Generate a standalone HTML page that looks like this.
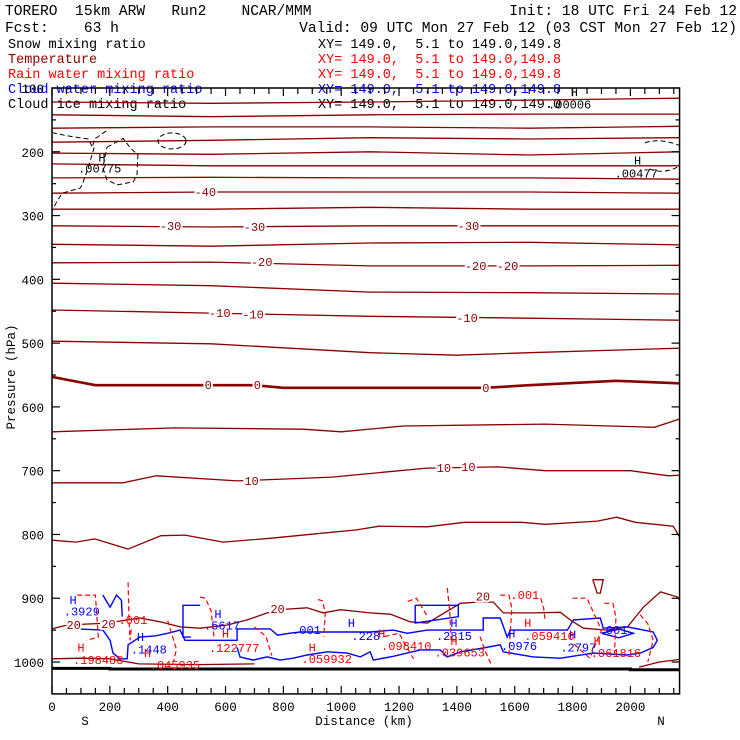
<!DOCTYPE html>
<html><head><meta charset="utf-8"><style>
html,body{margin:0;padding:0;background:#fff;}
svg{display:block;}
text{font-family:"Liberation Mono",monospace;}
</style></head><body>
<svg id="chart" width="740" height="740" viewBox="0 0 740 740" xmlns="http://www.w3.org/2000/svg">
<g font-size="14.6" fill="#000" style="white-space:pre">
<text x="5" y="15" xml:space="preserve">TORERO  15km ARW   Run2    NCAR/MMM</text>
<text x="737" y="15" text-anchor="end" xml:space="preserve">Init: 18 UTC Fri 24 Feb 12</text>
<text x="5" y="32" xml:space="preserve">Fcst:    63 h</text>
<text x="737" y="32" text-anchor="end" xml:space="preserve">Valid: 09 UTC Mon 27 Feb 12 (03 CST Mon 27 Feb 12)</text>
</g>
<g font-size="13.5" style="white-space:pre">
<text x="8" y="48" fill="#000">Snow mixing ratio</text>
<text x="318" y="48" fill="#000" xml:space="preserve">XY= 149.0,  5.1 to 149.0,149.8</text>
<text x="8" y="63" fill="#8b0000">Temperature</text>
<text x="318" y="63" fill="#ff0000" xml:space="preserve">XY= 149.0,  5.1 to 149.0,149.8</text>
<text x="8" y="78" fill="#ff0000">Rain water mixing ratio</text>
<text x="318" y="78" fill="#ff0000" xml:space="preserve">XY= 149.0,  5.1 to 149.0,149.8</text>
<text x="8" y="93" fill="#0000ff">Cloud water mixing ratio</text>
<text x="318" y="93" fill="#0000ff" xml:space="preserve">XY= 149.0,  5.1 to 149.0,149.8</text>
<text x="8" y="108" fill="#000">Cloud ice mixing ratio</text>
<text x="318" y="108" fill="#000" xml:space="preserve">XY= 149.0,  5.1 to 149.0,149.0</text>
</g>
<g id="plot"></g>
<g id="axes"></g>
<text x="0" y="0" font-size="12.5" text-anchor="middle" transform="translate(15,377) rotate(-90)">Pressure (hPa)</text>
<text x="364" y="725" font-size="12.5" text-anchor="middle">Distance (km)</text>
<text x="85" y="725" font-size="12.5" text-anchor="middle">S</text>
<text x="661" y="725" font-size="12.5" text-anchor="middle">N</text>
</svg>
<script>
// ---- axis domain ----
const xTicks = [0,200,400,600,800,1000,1200,1400,1600,1800,2000];
const yTicks = [100,200,300,400,500,600,700,800,900,1000];
// ---- temperature isotherms (upper, smooth) ----
const upperKm = [0,550,1100,1650,2170];
const upperP = [
 [122,124,122,119,116],[142,145,142,141,141],[163,161,161,163,160],
 [185,182,178,180,178],[202,204,200,205,200],[219,222,222,222,222],
 [241,240,241,241,243],[265,263,263,263,265],[290,290,287,290,290],
 [316,318,316,316,316],[345,348,343,342,346],[374,373,379,379,378],
 [406,410,420,421,423],[448,453,458,461,464]
];
const tm5Km = [0,550,1100,1400,1650,2170];
const tm5P = [497,501,515,519,515,508];
const t0Km = [0,150,700,800,1500,1650,1950,2170];
const t0P = [553,566,566,570,570,566,559,563];
const t5Km = [0,425,870,1000,1215,1705,2083,2170];
const t5P = [639,633,635,639,630,627,632,619];
const t10Km = [0,246,360,640,968,1297,1543,1705,2000,2132,2170];
const t10P = [719,719,708,716,710,696,694,700,700,708,707];
const t15Km = [0,83,148,263,377,460,592,754,934,1050,1131,1297,1427,1623,1706,1886,1952,2017,2148,2170];
const t15P = [809,812,807,823,802,801,812,806,798,793,787,788,781,781,784,779,773,781,787,804];
const t20Km = [0,52,190,304,374,443,512,606,675,744,813,882,938,997,1100,1170,1239,1298,1412,1471,1526,1561,1664,1758,1792,1837,1920,1990,2045,2104,2163,2170];
const t20P = [948,942,939,931,937,945,947,942,934,923,917,915,923,918,923,925,937,939,908,906,906,923,923,922,934,947,950,945,914,890,898,903];
const t25Km = [0,100,200,300,500,700];
const t25P = [995,994,995,1003,1004,1003];
const t25bKm = [2030,2100,2170];
const t25bP = [1008,1000,996];
const triKm = [1870,1906,1896,1885,1870];
const triP = [871,871,892,892,871];
// ---- surface ----
const sfcKm = [0,200,200,2000,2000,2170];
const sfcP = [1010,1010,1011,1011,1012,1012];
// ---- cloud water (blue) ----
const cwTopKm = [87,176,201,211,235,260,263,304,356,400,443,460,640,640,754,780,820,858,1100,1180,1228,1298,1491,1491,1550,1574,1585,1664,1782,1803,1896,1906,1990,2079,2093,2079,2034];
const cwTopP = [948,950,966,986,995,995,973,961,959,955,950,966,966,948,948,958,955,953,953,950,955,950,950,931,931,961,950,950,950,934,931,947,945,953,966,977,986];
const cwBotKm = [640,650,695,744,789,834,882,952,1021,1066,1100,1111,1180,1273,1342,1367,1412,1491,1550,1560,1664,1758,1872,1990,2034];
const cwBotP = [977,992,997,992,997,994,989,984,986,992,984,997,991,981,981,992,984,978,973,984,992,994,986,989,986];
const cwBoxKm = [1256,1405,1405,1256,1256];
const cwBoxP = [911,911,929,939,911];
const cwLoopKm = [512,453,453,480];
const cwLoopP = [911,911,961,961];
const cwUlKm = [176,201,223,240,243];
const cwUlP = [895,914,895,903,929];
const cwRightKm = [1900,1960,2010,1960,1900];
const cwRightP = [955,948,955,962,955];
// ---- rain (red dashed) ----
const rainKm = [
 [263,266,270,275],[87,150,160,120],[512,530,550,560],[920,935,945,940],
 [1367,1375,1380],[1550,1580,1590,1580],[1690,1700,1705],[1800,1850,1900,1860,1800],
 [1910,1940,1950,1945],[2034,2060,2079,2060],[700,740,760],[1150,1200,1250],[400,430,420],
 [1230,1260,1300],[1480,1500,1520]
];
const rainP = [
 [875,930,966,945],[895,895,961,966],[898,900,920,961],[902,904,923,960],
 [884,920,966],[895,895,915,990],[900,915,935],[900,900,950,994,970],
 [908,908,930,990],[926,940,966,1000],[945,960,990],[960,955,995],[935,980,1000],
 [905,900,930],[960,985,1005]
];
// ---- cloud ice (black dashed) ----
const iceKm = [0,52,125,140,146,160,194];
const iceP = [170,175,180,193,180,176,165];
const iceOuterKm = [146,125,104,97,35,17,0];
const iceOuterP = [193,225,252,257,265,278,292];
const iceLoopKm = [190,246,271,297,294,281,225,190,176,190];
const iceLoopP = [193,179,194,205,236,247,252,244,225,193];
// ---- temperature labels ----
const tLabelText = ["-40","-30","-30","-30","-20","-20","-20","-10","-10","-10","0","0","0","10","10","10","20","20","20","20"];
const tLabelKm = [530,410,700,1440,725,1465,1575,580,695,1435,540,710,1500,690,1355,1440,75,195,780,1490];
const tLabelP = [263,316,318,316,373,379,379,453,455,461,566,566,570,716,696,694,942,940,917,897];

// ---- axis functions ----
const X0=52, XS=0.2892, Y0=88, YS=0.6378;
function sx(km){return X0+km*XS;}
function sy(p){return Y0+(p-100)*YS;}
const NS="http://www.w3.org/2000/svg";
const plot=document.getElementById('plot');
const axes=document.getElementById('axes');
function mk(tag,attrs,parent){const e=document.createElementNS(NS,tag);for(const k in attrs)e.setAttribute(k,attrs[k]);(parent||plot).appendChild(e);return e;}
function line(km,p,stroke,w,dash,name){
  const pts=km.map((k,i)=>sx(k).toFixed(1)+','+sy(p[i]).toFixed(1)).join(' ');
  const e=mk('polyline',{points:pts,fill:'none',stroke:stroke,'stroke-width':w});
  if(dash)e.setAttribute('stroke-dasharray',dash);
  
  
  return e;
}
const TC='#8b0000';
upperP.forEach((row,i)=>{line(upperKm,row,TC,1.3,null,'isotherm-upper-'+i);});
line(tm5Km,tm5P,TC,1.3,null,'isotherm-minus5');
line(t0Km,t0P,TC,2.6,null,'isotherm-0');
line(t5Km,t5P,TC,1.3,null,'isotherm-5');
line(t10Km,t10P,TC,1.3,null,'isotherm-10');
line(t15Km,t15P,TC,1.3,null,'isotherm-15');
line(t20Km,t20P,TC,1.3,null,'isotherm-20');
line(t25Km,t25P,TC,1.3,null,'isotherm-25-south');
line(t25bKm,t25bP,TC,1.3,null,'isotherm-25-north');
line(triKm,triP,TC,1.3,null,'isotherm-closed-north');
// cloud water
line(cwTopKm,cwTopP,'#0000ff',1.4,null,'cloud-water-top');
line(cwBotKm,cwBotP,'#0000ff',1.4,null,'cloud-water-bottom');
line(cwBoxKm,cwBoxP,'#0000ff',1.4,null,'cloud-water-cell-1300');
line(cwLoopKm,cwLoopP,'#0000ff',1.4,null,'cloud-water-cell-480');
line(cwUlKm,cwUlP,'#0000ff',1.4,null,'cloud-water-cell-200');
line(cwRightKm,cwRightP,'#0000ff',1.4,null,'cloud-water-cell-1960');
// rain
rainKm.forEach((km,i)=>{line(km,rainP[i],'#ff0000',1.2,'5,3','rain-contour-'+i);});
// ice
line(iceKm,iceP,'#000',1,'5,3','cloud-ice-contour');
line(iceOuterKm,iceOuterP,'#000',1,'5,3','cloud-ice-contour-outer');
line(iceLoopKm,iceLoopP,'#000',1,'5,3','cloud-ice-loop');
const iceOval=mk('ellipse',{cx:sx(415),cy:sy(183),rx:14,ry:8,fill:'none',stroke:'#000','stroke-width':1,'stroke-dasharray':'5,3'});


const iceR=mk('path',{d:`M${sx(2050)},${sy(186)} Q${sx(2100)},${sy(178)} ${sx(2170)},${sy(190)} M${sx(2065)},${sy(227)} Q${sx(2120)},${sy(236)} ${sx(2170)},${sy(222)}`,fill:'none',stroke:'#000','stroke-width':1,'stroke-dasharray':'5,3'});


// surface
line(sfcKm,sfcP,'#000',3,null,'surface-line');
// temperature labels
tLabelText.forEach((t,i)=>{
  const e=mk('text',{x:sx(tLabelKm[i]),y:sy(tLabelP[i])+4,'font-size':12,'text-anchor':'middle',fill:TC,stroke:'#fff','stroke-width':4,'paint-order':'stroke'});
  e.textContent=t;
  
  
});
// field max labels
const hiText=["H",".00775","H",".00006","H",".00477",
 "H",".3929","H",".1448","H",".5617",".001","H",".228","H",".2815","H",".0976","H",".2797",".001",
 "H",".198488","H",".045935",".001","H",".122777","H",".059932","H",".098410","H",".039653","H",".059416","H",".061816",".001"];
const hiKm=[173,165,1806,1790,2025,2020,
 73,103,306,335,574,588,880,1035,1085,1390,1390,1590,1615,1800,1820,1940,
 100,160,330,425,280,600,630,900,950,1140,1225,1390,1410,1645,1720,1885,1950,1635];
const hiP=[209,226,106,126,214,234,
 903,921,961,980,925,943,950,939,959,939,959,955,975,957,977,950,
 977,997,986,1005,934,955,978,977,995,955,975,967,985,939,959,967,986,895];
const hiColor=["#000","#000","#000","#000","#000","#000",
 "#00f","#00f","#00f","#00f","#00f","#00f","#00f","#00f","#00f","#00f","#00f","#00f","#00f","#00f","#00f","#00f",
 "#f00","#f00","#f00","#f00","#f00","#f00","#f00","#f00","#f00","#f00","#f00","#f00","#f00","#f00","#f00","#f00","#f00","#f00"];
hiText.forEach((t,i)=>{
  const e=mk('text',{x:sx(hiKm[i]),y:sy(hiP[i])+4,'font-size':12,'text-anchor':'middle',fill:hiColor[i]});
  e.textContent=t;
  
  
});
// frame
const frame=mk('rect',{x:sx(0),y:sy(100),width:sx(2170)-sx(0),height:sy(1050)-sy(100),fill:'none',stroke:'#000','stroke-width':1.5},axes);


// x ticks
for(let k=0;k<=2150;k+=50){
  const len=(k%200===0)?8:6;
  const b=mk('line',{x1:sx(k),x2:sx(k),y1:sy(1050),y2:sy(1050)-len,stroke:'#000','stroke-width':1.2},axes);
  
  
  const t=mk('line',{x1:sx(k),x2:sx(k),y1:sy(100),y2:sy(100)+len,stroke:'#000','stroke-width':1.2},axes);
  
  
}
xTicks.forEach(k=>{
  const e=mk('text',{x:sx(k),y:711,'font-size':12.5,'text-anchor':'middle'},axes);
  e.textContent=k;
  
  
});
// y ticks
for(let p=100;p<=1050;p+=50){
  const len=(p%100===0)?8:4;
  const l=mk('line',{x1:sx(0),x2:sx(0)+len,y1:sy(p),y2:sy(p),stroke:'#000','stroke-width':1.2},axes);
  
  
  const r=mk('line',{x1:sx(2170),x2:sx(2170)-len,y1:sy(p),y2:sy(p),stroke:'#000','stroke-width':1.2},axes);
  
  
}
yTicks.forEach(p=>{
  const e=mk('text',{x:44,y:sy(p)+5,'font-size':12.5,'text-anchor':'end'},axes);
  e.textContent=p;
  
  
});
</script>
</body></html>
